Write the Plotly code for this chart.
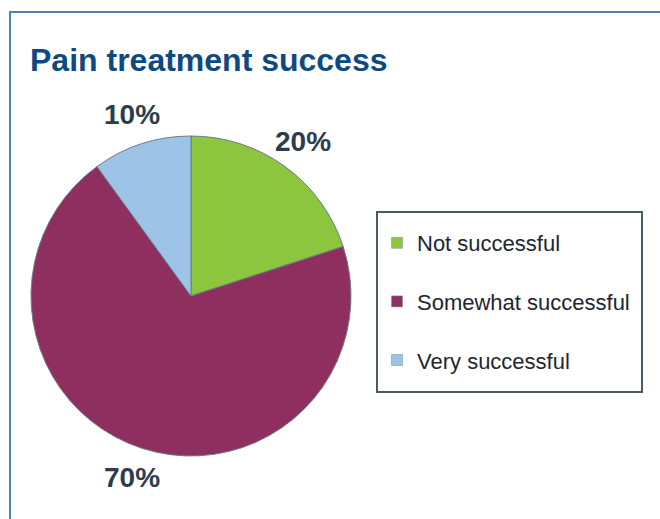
import math
import plotly.graph_objects as go

categories = ["Not successful", "Somewhat successful", "Very successful"]
values = [20, 70, 10]
colors = ["#8cc63e", "#8f2f5f", "#9dc4e6"]
title_text = "Pain treatment success"

W, H = 660, 519

# pie geometry (pixels)
CX, CY, R = 191, 296, 160
LABEL_R = 191

fig = go.Figure()

fig.add_trace(go.Pie(
    labels=categories,
    values=values,
    sort=False,
    direction="clockwise",
    rotation=0,
    marker=dict(colors=colors, line=dict(color="#6d7c84", width=1)),
    textinfo="none",
    showlegend=False,
    hoverinfo="label+percent",
    domain=dict(x=[(CX - R) / W, (CX + R) / W], y=[1 - (CY + R) / H, 1 - (CY - R) / H]),
))

# percentage labels placed at each slice's mid-angle, outside the pie
total = sum(values)
annotations = []
cum = 0
for v in values:
    mid = (cum + v / 2) / total * 2 * math.pi
    cum += v
    px = CX + LABEL_R * math.sin(mid)
    py = CY - LABEL_R * math.cos(mid)
    annotations.append(dict(
        x=px / W, y=1 - py / H, xref="paper", yref="paper",
        text=f"<b>{v}%</b>", showarrow=False,
        xanchor="center", yanchor="middle",
        font=dict(family="Liberation Sans", size=28, color="#2b3d4a"),
    ))

# legend entries
for cat, col in zip(categories, colors):
    fig.add_trace(go.Scatter(
        x=[None], y=[None], mode="markers",
        marker=dict(symbol="square", size=11, color=col,
                    line=dict(color="#7a8a90", width=0.5)),
        name=cat, legendgroup=cat, showlegend=True,
    ))

fig.update_layout(
    width=W, height=H,
    margin=dict(l=0, r=0, t=0, b=0),
    paper_bgcolor="white",
    plot_bgcolor="rgba(0,0,0,0)",
    xaxis=dict(visible=False),
    yaxis=dict(visible=False),
    title=dict(
        text=f"<b>{title_text}</b>",
        x=30 / W, xanchor="left",
        y=1 - 60 / H, yanchor="middle",
        font=dict(family="Liberation Sans", size=32, color="#0e4a7f"),
    ),
    legend=dict(
        x=377 / W, xanchor="left",
        y=1 - 222 / H, yanchor="top",
        bgcolor="rgba(0,0,0,0)",
        borderwidth=0,
        font=dict(family="Liberation Sans", size=22, color="#1c2731"),
        tracegroupgap=27,
        itemwidth=30,
    ),
    annotations=annotations,
    shapes=[
        # outer frame
        dict(type="rect", xref="paper", yref="paper",
             x0=10 / W, x1=1.05, y0=-0.05, y1=1 - 12 / H,
             line=dict(color="#4d84b5", width=2), fillcolor="rgba(0,0,0,0)"),
        # legend box
        dict(type="rect", xref="paper", yref="paper",
             x0=377 / W, x1=642 / W, y0=1 - 392 / H, y1=1 - 212 / H,
             line=dict(color="#4a5a66", width=2), fillcolor="rgba(0,0,0,0)"),
    ],
)

fig.write_html("out.html", config={"displayModeBar": False},
               post_script="document.body.style.margin='0';")
